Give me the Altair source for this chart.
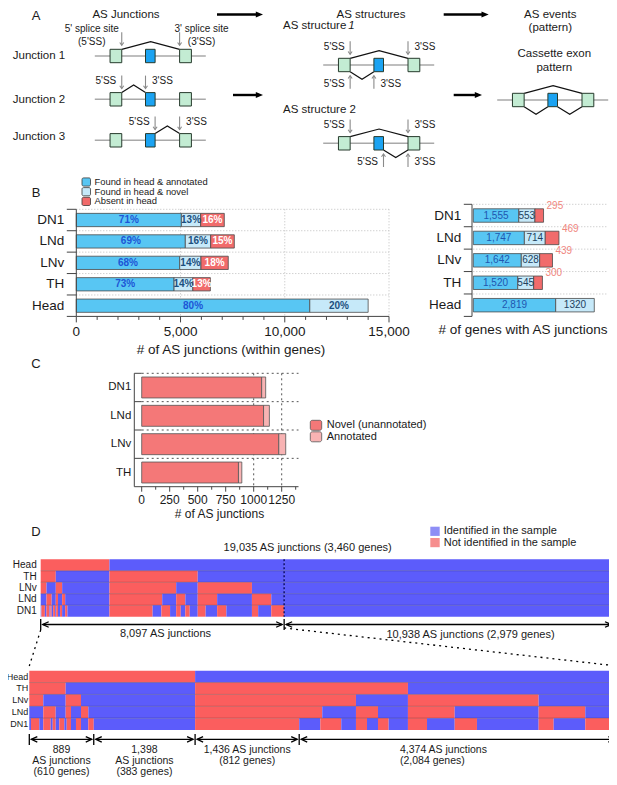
import altair as alt
import pandas as pd

# ===================== DATA =====================
# Panel B
B_SAMPLES = ["DN1", "LNd", "LNv", "TH", "Head"]
B_LEGEND = ["Found in head & annotated", "Found in head & novel", "Absent in head"]
B_JUNC_ANNOT = [5040, 5230, 4960, 4690, 11200]
B_JUNC_NOVEL = [925, 1215, 1020, 900, 2800]
B_JUNC_ABSENT = [1135, 1135, 1310, 840, 0]
B_PCT_ANNOT = ["71%", "69%", "68%", "73%", "80%"]
B_PCT_NOVEL = ["13%", "16%", "14%", "14%", "20%"]
B_PCT_ABSENT = ["16%", "15%", "18%", "13%", ""]
B_GENE_ANNOT = [1555, 1747, 1642, 1520, 2819]
B_GENE_NOVEL = [553, 714, 628, 545, 1320]
B_GENE_ABSENT = [295, 469, 439, 300, 0]
B_TICKS = [0, 5000, 10000, 15000]
B_TICK_LABELS = ["0", "5,000", "10,000", "15,000"]
B_MINOR = [1000, 2000, 3000, 4000, 6000, 7000, 8000, 9000, 11000, 12000, 13000, 14000]

# Panel C
C_SAMPLES = ["DN1", "LNd", "LNv", "TH"]
C_LEGEND = ["Novel (unannotated)", "Annotated"]
C_NOVEL = [1071, 1088, 1224, 864]
C_ANNOT = [36, 52, 62, 30]
C_TICKS = [0, 250, 500, 750, 1000, 1250]
C_MINOR = [125, 375, 625, 875, 1125, 1375]
C_GRID = [1000, 1250]

# Panel D
D_SAMPLES = ["Head", "TH", "LNv", "LNd", "DN1"]
D_LEGEND = ["Identified in the sample", "Not identified in the sample"]
D_TOTAL = 19035
D_SUBSET = 8097
D_FIRST_STATE = ["absent", "absent", "absent", "present", "present"]
D_BREAKS = [
    [0, 2287, 8097],
    [0, 502, 2287, 5223, 8097],
    [0, 193, 502, 713, 2287, 4506, 5223, 7026, 8097],
    [0, 193, 364, 502, 575, 713, 814, 2287, 4041, 4506, 4810, 5223, 5868, 7026, 7669, 8097],
    [0, 23, 138, 193, 295, 323, 364, 414, 483, 516, 575, 644, 713, 814, 889, 2287, 3723,
     4014, 4303, 4506, 4658, 4810, 4957, 5223, 5486, 5868, 6175, 7026, 7233, 7669, 8097],
]
D_GROUPS = [889, 1398, 1436, 4374]
D_GROUP_TEXT = [["889", "AS junctions", "(610 genes)"],
                ["1,398", "AS junctions", "(383 genes)"],
                ["1,436 AS junctions", "(812 genes)"],
                ["4,374 AS junctions", "(2,084 genes)"]]
D_TOP_TEXT = "19,035 AS junctions (3,460 genes)"
D_LEFT_TEXT = "8,097 AS junctions"
D_RIGHT_TEXT = "10,938 AS junctions (2,979 genes)"

# Panel A (schematic structure)
A_MODELS = ["Junction 1", "Junction 2", "Junction 3", "AS structure 1", "AS structure 2", "Cassette exon pattern"]
A_EXON_KIND = ["constitutive", "alternative", "constitutive"]
A_ARCS = [("Junction 1", 0, 2, "up"), ("Junction 2", 0, 1, "up"), ("Junction 3", 1, 2, "up"),
          ("AS structure 1", 0, 2, "up"), ("AS structure 1", 0, 1, "down"),
          ("AS structure 2", 0, 2, "up"), ("AS structure 2", 1, 2, "down"),
          ("Cassette exon pattern", 0, 2, "up"), ("Cassette exon pattern", 0, 1, "down"),
          ("Cassette exon pattern", 1, 2, "down")]
A_SITES = [("Junction 1", "5'", 0, "above"), ("Junction 1", "3'", 2, "above"),
           ("Junction 2", "5'", 0, "above"), ("Junction 2", "3'", 1, "above"),
           ("Junction 3", "5'", 1, "above"), ("Junction 3", "3'", 2, "above"),
           ("AS structure 1", "5'", 0, "above"), ("AS structure 1", "3'", 2, "above"),
           ("AS structure 1", "5'", 0, "below"), ("AS structure 1", "3'", 1, "below"),
           ("AS structure 2", "5'", 0, "above"), ("AS structure 2", "3'", 2, "above"),
           ("AS structure 2", "5'", 1, "below"), ("AS structure 2", "3'", 2, "below")]

# ===================== LAYOUT / STYLE =====================
OFF = 8
FONT = "Liberation Sans"
NARROW = "Liberation Sans Narrow, Liberation Sans"
DARK = "#1a1a1a"
AXC = "#444444"
GRIDC = "#bdbdbd"


def lin(lo, hi, a, b):
    return alt.Scale(domain=[lo, hi], range=[a - OFF, b - OFF], nice=False, zero=False)


SX = lin(0, 617, 0, 617)
SY = lin(0, 785, 0, 785)


def XQ(f, s):
    return alt.X(f"{f}:Q", scale=s, axis=None)


def YQ(f, s):
    return alt.Y(f"{f}:Q", scale=s, axis=None)


def rects(rows, xs, ys, stroke=None, sw=0.0, radius=0):
    kw = dict(strokeWidth=sw, cornerRadius=radius)
    if stroke:
        kw["stroke"] = stroke
    return alt.Chart(pd.DataFrame(rows)).mark_rect(**kw).encode(
        x=XQ("x", xs), x2=alt.X2("x2"), y=YQ("y", ys), y2=alt.Y2("y2"),
        fill=alt.Fill("fill:N", scale=None, legend=None))


def rules(rows, xs, ys, color, sw=1.0, dash=None, **mk):
    kw = dict(color=color, strokeWidth=sw, **mk)
    if dash:
        kw["strokeDash"] = dash
    return alt.Chart(pd.DataFrame(rows)).mark_rule(**kw).encode(
        x=XQ("x", xs), x2=alt.X2("x2"), y=YQ("y", ys), y2=alt.Y2("y2"))


def texts(rows, xs, ys, align="center", baseline="middle", weight="normal", style="normal", font=FONT, **mk):
    return alt.Chart(pd.DataFrame(rows)).mark_text(
        align=align, baseline=baseline, fontWeight=weight, fontStyle=style, font=font, **mk).encode(
        x=XQ("x", xs), y=YQ("y", ys), text=alt.Text("t:N"),
        size=alt.Size("fs:Q", scale=None, legend=None),
        color=alt.Color("c:N", scale=None, legend=None))


def pts(rows, xs, ys, shape, size, color, filled=False, sw=1.0, **mk):
    return alt.Chart(pd.DataFrame(rows)).mark_point(
        shape=shape, size=size, filled=filled, color=color, strokeWidth=sw, opacity=1, **mk).encode(
        x=XQ("x", xs), y=YQ("y", ys))


def polylines(rows, xs, ys, color, sw=1.0):
    return alt.Chart(pd.DataFrame(rows)).mark_line(color=color, strokeWidth=sw).encode(
        x=XQ("x", xs), y=YQ("y", ys), detail="g:N", order="o:Q")


def T(x, y, t, fs, c=DARK):
    return dict(x=x, y=y, t=t, fs=fs, c=c)


def R(x, x2, y, y2):
    return dict(x=x, x2=x2, y=y, y2=y2)


layers = []

# ===================== PANEL A =====================
A_ANCHOR = {"Junction 1": (150.3, 56), "Junction 2": (150.3, 99.3), "Junction 3": (150.3, 140.3),
            "AS structure 1": (378.7, 65), "AS structure 2": (378.7, 143.3),
            "Cassette exon pattern": (552.7, 100)}
EX_OFF = [-34.4, 0.0, 35.2]
EX_W = [11.7, 9.6, 11.8]
EX_H = 13.4
GENE_HALF = 55.5
RISE = 7.6
EXON_FILL = {"constitutive": "#c3ecd3", "alternative": "#1ba3f2"}


def ebox(m, k):
    cx, cy = A_ANCHOR[m]
    c = cx + EX_OFF[k]
    return c - EX_W[k] / 2, c + EX_W[k] / 2, cy - EX_H / 2, cy + EX_H / 2


gene_rows, exon_rows, arc_rows = [], [], []
for m in A_MODELS:
    cx, cy = A_ANCHOR[m]
    gene_rows.append(R(cx - GENE_HALF, cx + GENE_HALF, cy, cy))
    for k, kind in enumerate(A_EXON_KIND):
        x0, x1, y0, y1 = ebox(m, k)
        exon_rows.append(dict(x=x0, x2=x1, y=y0, y2=y1, fill=EXON_FILL[kind]))
for g, (m, a, b, d) in enumerate(A_ARCS):
    xa = ebox(m, a)[1]
    xb = ebox(m, b)[0]
    _, _, top, bot = ebox(m, a)
    base = top if d == "up" else bot
    peak = base - RISE if d == "up" else base + RISE
    for o, (xx, yy) in enumerate([(xa, base), ((xa + xb) / 2, peak), (xb, base)]):
        arc_rows.append(dict(x=xx, y=yy, g=g, o=o))

shaft_rows, head_dn, head_up = [], [], []
lab_r, lab_l, lab_c = [], [], []
for m, site, k, pos in A_SITES:
    x0, x1, top, bot = ebox(m, k)
    x = x1 if site == "5'" else x0
    if pos == "above":
        shaft_rows.append(R(x, x, top - 17, top - 4))
        head_dn.append(dict(x=x, y=top - 4))
        ly = top - 11.5
    else:
        shaft_rows.append(R(x, x, bot + 4, bot + 17))
        head_up.append(dict(x=x, y=bot + 4))
        ly = bot + 12
    if m == "Junction 1":
        cxl = x - 30 if site == "5'" else x + 22
        lab_c.append(T(cxl, top - 20, f"{site} splice site", 10))
        lab_c.append(T(cxl, top - 7.6, f"({site}SS)", 10))
    elif site == "5'":
        lab_r.append(T(x - 5.5, ly, "5'SS", 10))
    else:
        lab_l.append(T(x + 6.5, ly, "3'SS", 10))

layers += [
    rules(gene_rows, SX, SY, "#a9a9a9", 1.5),
    polylines(arc_rows, SX, SY, "#111111", 1.2),
    rects(exon_rows, SX, SY, stroke="#263a2c", sw=1.0),
    rules(shaft_rows, SX, SY, "#8a8a8a", 1.1),
    pts(head_dn, SX, SY, "M-1,-1.4L0,0L1,-1.4", 16, "#8a8a8a", sw=1.1),
    pts(head_up, SX, SY, "M-1,1.4L0,0L1,1.4", 16, "#8a8a8a", sw=1.1),
    texts(lab_r, SX, SY, align="right"),
    texts(lab_l, SX, SY, align="left"),
    texts(lab_c, SX, SY),
]

TITLE_Y = 15
BIG_ARROWS = [(217, 263, TITLE_Y - 0.5), (443.7, 488.7, TITLE_Y - 0.5), (233, 263, 95), (453.7, 482, 95)]
layers += [
    rules([R(a, b - 4, y, y) for a, b, y in BIG_ARROWS], SX, SY, "#000000", 2.4),
    pts([dict(x=b, y=y) for a, b, y in BIG_ARROWS], SX, SY, "M0,0L-2.4,-1L-2.4,1Z", 36, "#000000", filled=True),
]
layers += [
    texts([T(36, TITLE_Y + 1, "A", 13), T(126, TITLE_Y, "AS Junctions", 11.5),
           T(371, TITLE_Y, "AS structures", 11.5),
           T(550.3, TITLE_Y, "AS events", 11.5), T(550.3, TITLE_Y + 12.5, "(pattern)", 11.5),
           T(39, 56, "Junction 1", 11.5), T(39, 100, "Junction 2", 11.5), T(39, 137, "Junction 3", 11.5),
           T(554.3, 54.3, "Cassette exon", 11.5), T(554.3, 67.7, "pattern", 11.5)], SX, SY),
    texts([T(283, 26, "AS structure", 11.5), T(283, 110, "AS structure 2", 11.5)], SX, SY, align="left"),
    texts([T(351.5, 26, "1", 11.5)], SX, SY, style="italic"),
]

# ===================== PANEL B =====================
B_COL = ["#58c6f3", "#c6e9f9", "#f16b6b"]
B_TXT = ["#1d55d6", "#1b4f7e", "#ffffff"]

# legend
leg_rows, leg_txt = [], []
for i, lab in enumerate(B_LEGEND):
    yc = 182 + i * 9.7
    leg_rows.append(dict(x=82, x2=90.5, y=yc - 4.1, y2=yc + 4.1, fill=B_COL[i]))
    leg_txt.append(T(94.5, yc, lab, 9.4))
layers += [rects(leg_rows, SX, SY, stroke="#3a3a3a", sw=0.8, radius=1.5),
           texts(leg_txt, SX, SY, align="left"),
           texts([T(36, 193, "B", 13)], SX, SY)]

# --- left: junction counts
xsL = lin(0, 15000, 76.3, 389)
ysL = lin(-0.5, 4.5, 209.3, 316.4)
HB = 0.31
barsL, txtL = [], [[], [], []]
for i, s in enumerate(B_SAMPLES):
    vals = [B_JUNC_ANNOT[i], B_JUNC_NOVEL[i], B_JUNC_ABSENT[i]]
    labs = [B_PCT_ANNOT[i], B_PCT_NOVEL[i], B_PCT_ABSENT[i]]
    st = 0
    for k, v in enumerate(vals):
        if v > 0:
            barsL.append(dict(x=st, x2=st + v, y=i - HB, y2=i + HB, fill=B_COL[k]))
            txtL[k].append(T(st + v / 2, i, labs[k], 10, B_TXT[k]))
        st += v
bounds5 = [-0.5, 0.5, 1.5, 2.5, 3.5]
layers += [
    rules([R(0, 15000, b, b) for b in bounds5], xsL, ysL, GRIDC, 1, dash=[1, 2]),
    rules([R(v, v, -0.5, 4.5) for v in B_TICKS[1:]], xsL, ysL, GRIDC, 1, dash=[1, 2]),
    rects(barsL, xsL, ysL, stroke="#4a4a4a", sw=0.8),
    texts(txtL[0] + txtL[1] + txtL[2], xsL, ysL, weight="bold"),
    rules([R(0, 0, -0.5, 4.5)], xsL, ysL, AXC, 1),
    rules([R(0, 0, b, b) for b in bounds5 + [4.5]], xsL, ysL, AXC, 1, xOffset=-9.5),
    rules([R(0, 15000, 4.5, 4.5)], xsL, ysL, AXC, 1),
    rules([R(v, v, 4.5, 4.5) for v in B_TICKS], xsL, ysL, AXC, 1, y2Offset=6),
    rules([R(v, v, 4.5, 4.5) for v in B_MINOR], xsL, ysL, AXC, 1, y2Offset=3.5),
    texts([T(v, 4.5, l, 13.5) for v, l in zip(B_TICKS, B_TICK_LABELS)], xsL, ysL, dy=16),
    texts([T(0, i, s, 13.5) for i, s in enumerate(B_SAMPLES)], xsL, ysL, align="right", dx=-12),
    texts([T(231, 349.5, "# of AS junctions (within genes)", 13.5)], SX, SY),
]

# --- right: gene counts
xsR = lin(0, 4550, 473.3, 606.3)
ysR = lin(-0.5, 4.5, 204.3, 316.4)
HR = 0.30
barsR, txtR_a, txtR_n, txtR_r = [], [], [], []
for i, s in enumerate(B_SAMPLES):
    a, n, r = B_GENE_ANNOT[i], B_GENE_NOVEL[i], B_GENE_ABSENT[i]
    barsR.append(dict(x=0, x2=a, y=i - HR, y2=i + HR, fill=B_COL[0]))
    barsR.append(dict(x=a, x2=a + n, y=i - HR, y2=i + HR, fill=B_COL[1]))
    txtR_a.append(T(a / 2, i, f"{a:,}", 10, "#1f56b0"))
    txtR_n.append(T(a + n / 2, i, str(n), 10, "#223f5e"))
    if r > 0:
        barsR.append(dict(x=a + n, x2=a + n + r, y=i - HR, y2=i + HR, fill=B_COL[2]))
        txtR_r.append(T(a + n + r, i - 0.42, str(r), 10, "#f0867e"))
layers += [
    rules([R(0, 4550, b, b) for b in bounds5], xsR, ysR, GRIDC, 1, dash=[1, 2]),
    rects(barsR, xsR, ysR, stroke="#4a4a4a", sw=0.8),
    texts(txtR_a + txtR_n, xsR, ysR),
    texts(txtR_r, xsR, ysR, align="left", dx=3),
    rules([R(0, 0, -0.5, 4.5)], xsR, ysR, AXC, 1, xOffset=-1.3, x2Offset=-1.3),
    rules([R(0, 0, b, b) for b in bounds5 + [4.5]], xsR, ysR, AXC, 1, xOffset=-9.5, x2Offset=-1.3),
    texts([T(0, i, s, 13.5) for i, s in enumerate(B_SAMPLES)], xsR, ysR, align="right", dx=-12),
    texts([T(523, 330, "# of genes with AS junctions", 13.5)], SX, SY),
]

# ===================== PANEL C =====================
C_COL = ["#f47878", "#f8b3b3"]
xsC = lin(-66, 1400, 134.3, 298.5)
ysC = lin(-0.5, 3.5, 373.3, 486.7)
HC = 0.37
barsC = []
for i, s in enumerate(C_SAMPLES):
    nv, an = C_NOVEL[i], C_ANNOT[i]
    barsC.append(dict(x=0, x2=nv, y=i - HC, y2=i + HC, fill=C_COL[0]))
    barsC.append(dict(x=nv, x2=nv + an, y=i - HC, y2=i + HC, fill=C_COL[1]))
bounds4 = [-0.5, 0.5, 1.5, 2.5]
layers += [
    rules([R(0, 1400, b, b) for b in bounds4], xsC, ysC, "#555555", 1, dash=[2, 3]),
    rules([R(v, v, -0.5, 3.5) for v in C_GRID], xsC, ysC, "#555555", 1, dash=[2, 3]),
    rects(barsC, xsC, ysC, stroke="#555555", sw=0.8),
    rules([R(-66, 0, b, b) for b in bounds4], xsC, ysC, AXC, 1),
    rules([R(-66, -66, -0.5, 3.5)], xsC, ysC, AXC, 1),
    rules([R(-66, 1400, 3.5, 3.5)], xsC, ysC, AXC, 1),
    rules([R(v, v, 3.5, 3.5) for v in C_TICKS], xsC, ysC, AXC, 1, y2Offset=5),
    rules([R(v, v, 3.5, 3.5) for v in C_MINOR], xsC, ysC, AXC, 1, y2Offset=3),
    texts([T(v, 3.5, str(v), 12) for v in C_TICKS], xsC, ysC, dy=13.5),
    texts([T(-66, i, s, 11.5) for i, s in enumerate(C_SAMPLES)], xsC, ysC, align="right", dx=-3),
    texts([T(219.5, 513.5, "# of AS junctions", 12), T(36, 363.5, "C", 13)], SX, SY),
]
legC, legCt = [], []
for i, lab in enumerate(C_LEGEND):
    yc = 425.3 + i * 11.5
    legC.append(dict(x=310.3, x2=321.7, y=yc - 5, y2=yc + 5, fill=C_COL[i]))
    legCt.append(T(326.7, yc, lab, 11))
layers += [rects(legC, SX, SY, stroke="#555555", sw=0.8, radius=2),
           texts(legCt, SX, SY, align="left")]

# ===================== PANEL D =====================
D_COL = {"present": "#5c5cfb", "absent": "#fb5e5e"}
D_LEG_COL = ["#8e8ef6", "#f68e8e"]


def heat_rows(include_rest):
    rows = []
    for i, br in enumerate(D_BREAKS):
        state = D_FIRST_STATE[i]
        for a, b in zip(br[:-1], br[1:]):
            rows.append(dict(x=a, x2=b, y=i - 0.5, y2=i + 0.5, fill=D_COL[state]))
            state = "absent" if state == "present" else "present"
        if include_rest:
            rows.append(dict(x=D_SUBSET, x2=D_TOTAL, y=i - 0.5, y2=i + 0.5, fill=D_COL["present"]))
    return rows


xsDT = lin(0, D_TOTAL, 40.7, 613)
ysDT = lin(-0.5, 4.5, 559.3, 616.7)
xsDB = lin(0, D_SUBSET, 29.3, 616.3)
ysDB = lin(-0.5, 4.5, 670.7, 730)


def top_px(j):
    return 40.7 + j / D_TOTAL * (613 - 40.7)


CHEV_L = "M2.4,-1.1L0,0L2.4,1.1"
CHEV_R = "M-2.4,-1.1L0,0L-2.4,1.1"

# top heatmap
layers += [
    rules([R(0, D_TOTAL, 0, 0)], xsDT, SY, "#e4e4e4", 3.5),
    rects(heat_rows(True), xsDT, ysDT),
    rules([R(0, D_TOTAL, b, b) for b in [0.5, 1.5, 2.5, 3.5]], xsDT, ysDT, "#000000", 1, opacity=0.22),
    rules([R(D_SUBSET, D_SUBSET, -0.5, 4.5)], xsDT, ysDT, "#10106a", 1.5, dash=[2, 2]),
    texts([T(0, i, s, 10) for i, s in enumerate(D_SAMPLES)], xsDT, ysDT, align="right", dx=-4,
          font=NARROW),
]
top_ends = [0, D_SUBSET, D_TOTAL]
layers += [
    rules([R(a, b, 624.5, 624.5) for a, b in zip(top_ends[:-1], top_ends[1:])], xsDT, SY, "#000000", 1.3,
          xOffset=2, x2Offset=-2),
    rules([R(v, v, 619, 630) for v in top_ends], xsDT, SY, "#000000", 1.3),
    pts([dict(x=v, y=624.5) for v in top_ends[:-1]], xsDT, SY, CHEV_L, 25, "#000000", sw=1.3, xOffset=2),
    pts([dict(x=v, y=624.5) for v in top_ends[1:]], xsDT, SY, CHEV_R, 25, "#000000", sw=1.3, xOffset=-2),
]

# zoom connectors
layers += [
    rules([R(top_px(0), 29.3, 630, 666), R(top_px(D_SUBSET), 617, 628, 666)], SX, SY, "#000000", 1.3,
          dash=[2, 4]),
]

# bottom heatmap
layers += [
    rules([R(0, D_SUBSET, 0, 0)], xsDB, SY, "#e4e4e4", 3.5),
    rects(heat_rows(False), xsDB, ysDB),
    rules([R(0, D_SUBSET, b, b) for b in [0.5, 1.5, 2.5, 3.5]], xsDB, ysDB, "#000000", 1, opacity=0.22),
    texts([T(0, i, s, 9) for i, s in enumerate(D_SAMPLES)], xsDB, ysDB, align="right", dx=-1,
          font=NARROW),
]
cum = [0]
for g in D_GROUPS:
    cum.append(cum[-1] + g)
layers += [
    rules([R(a, b, 739.3, 739.3) for a, b in zip(cum[:-1], cum[1:])], xsDB, SY, "#000000", 1.3,
          xOffset=2, x2Offset=-2),
    rules([R(v, v, 734, 745) for v in cum], xsDB, SY, "#000000", 1.3),
    pts([dict(x=v, y=739.3) for v in cum[:-1]], xsDB, SY, CHEV_L, 25, "#000000", sw=1.3, xOffset=2),
    pts([dict(x=v, y=739.3) for v in cum[1:]], xsDB, SY, CHEV_R, 25, "#000000", sw=1.3, xOffset=-2),
]
grp_c, grp_l = [], []
for gi, lines in enumerate(D_GROUP_TEXT):
    mid = (cum[gi] + cum[gi + 1]) / 2
    for li, t in enumerate(lines):
        y = 750 + li * 10.8
        if gi == 3:
            grp_l.append(T(cum[gi] + 1390, y, t, 10.5))
        else:
            grp_c.append(T(mid, y, t, 10.5))
layers += [texts(grp_c, xsDB, SY), texts(grp_l, xsDB, SY, align="left")]

# panel D texts and legend
legD, legDt = [], []
for i, lab in enumerate(D_LEGEND):
    yc = 531.3 + i * 11.3
    legD.append(dict(x=430.3, x2=439.7, y=yc - 4.6, y2=yc + 4.6, fill=D_LEG_COL[i]))
    legDt.append(T(443.7, yc, lab, 11))
layers += [
    rects(legD, SX, SY),
    texts(legDt, SX, SY, align="left"),
    texts([T(36, 532, "D", 13), T(307.7, 547.5, D_TOP_TEXT, 11),
           T(165.5, 633.5, D_LEFT_TEXT, 11), T(470.5, 635, D_RIGHT_TEXT, 11)], SX, SY),
]

chart = alt.layer(*layers).resolve_scale(x="independent", y="independent").properties(
    width=601, height=769, padding=0, background="white",
    autosize=alt.AutoSizeParams(type="none")).configure_view(stroke=None)

chart.save("out.html", embed_options={"renderer": "svg", "actions": False})
